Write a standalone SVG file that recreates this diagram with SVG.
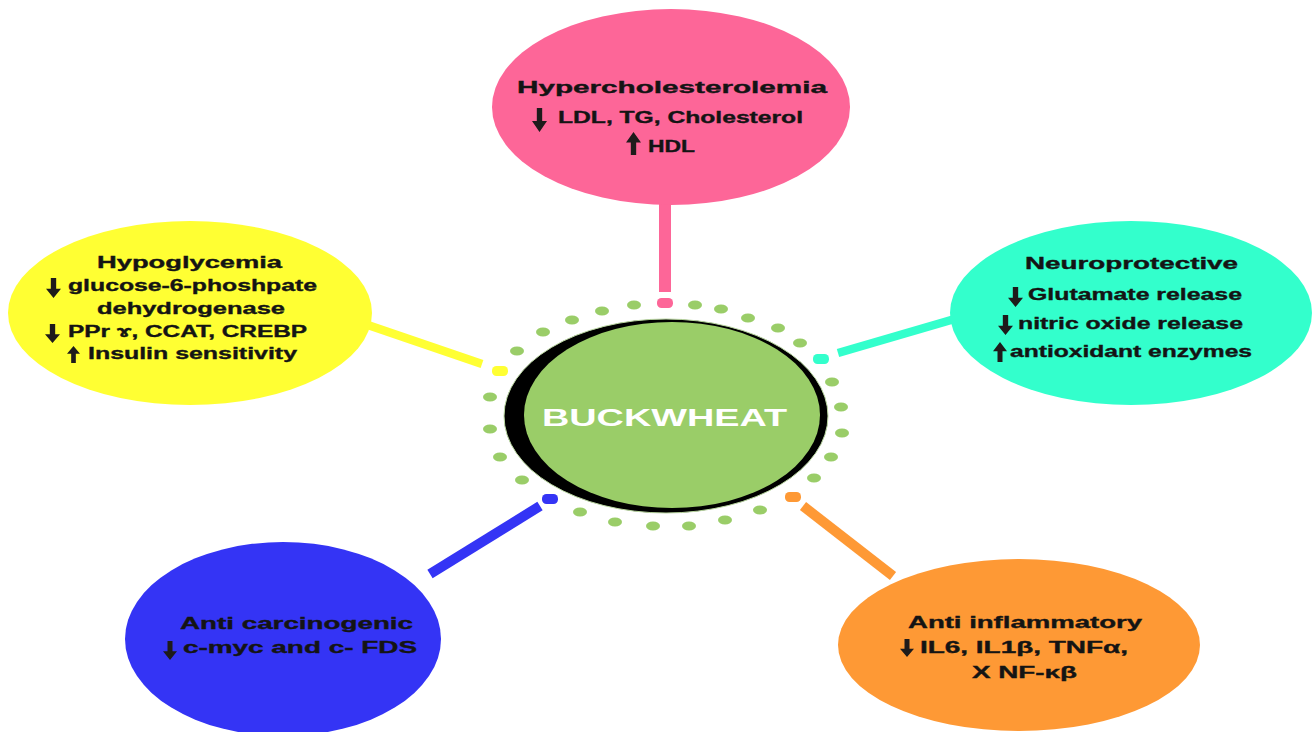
<svg xmlns="http://www.w3.org/2000/svg" xmlns:xlink="http://www.w3.org/1999/xlink" width="1312" height="732" viewBox="0 0 1312 732">
<style>
.t{font-family:"Liberation Sans",Arial,"DejaVu Sans",sans-serif;font-weight:bold;font-size:16px;fill:#141414;stroke:#141414;stroke-width:0.35px}
.dot{fill:#9acd68}
.lnk{fill:none;stroke-linecap:butt}
</style>
<defs>
<symbol id="dn" viewBox="0 0 14 24" preserveAspectRatio="none">
<path d="M4.5 0H9.5V13H14L7 24L0 13H4.5Z" fill="#1e1b1b"/>
</symbol>
<symbol id="up" viewBox="0 0 14 24" preserveAspectRatio="none">
<path d="M4.5 24H9.5V11H14L7 0L0 11H4.5Z" fill="#1e1b1b"/>
</symbol>
</defs>
<rect width="1312" height="732" fill="#ffffff"/>

<g id="connectors">
<line class="lnk" x1="665" y1="200" x2="665" y2="292" stroke="#fd6698" stroke-width="12"/>
<line class="lnk" x1="362" y1="323" x2="482" y2="364" stroke="#ffff33" stroke-width="8.5"/>
<line class="lnk" x1="838" y1="353" x2="958" y2="318" stroke="#33ffcc" stroke-width="8.5"/>
<line class="lnk" x1="540" y1="506" x2="430" y2="574" stroke="#3434f5" stroke-width="10"/>
<line class="lnk" x1="803" y1="506" x2="893" y2="576" stroke="#fe9935" stroke-width="10"/>
<rect x="657" y="298" width="16" height="10" rx="4.5" fill="#fd6698"/>
<rect x="492" y="366" width="16" height="10" rx="4.5" fill="#ffff33"/>
<rect x="813" y="354" width="16" height="10" rx="4.5" fill="#33ffcc"/>
<rect x="542" y="494" width="16" height="10" rx="4.5" fill="#3434f5"/>
<rect x="785" y="492" width="16" height="10" rx="4.5" fill="#fe9935"/>
</g>

<g id="buckwheat">
<g class="dots">
<ellipse class="dot" cx="602" cy="311" rx="7" ry="4.5"/>
<ellipse class="dot" cx="634" cy="305" rx="7" ry="4.5"/>
<ellipse class="dot" cx="695" cy="305" rx="7" ry="4.5"/>
<ellipse class="dot" cx="721" cy="309" rx="7" ry="4.5"/>
<ellipse class="dot" cx="748" cy="318" rx="7" ry="4.5"/>
<ellipse class="dot" cx="778" cy="328" rx="7" ry="4.5"/>
<ellipse class="dot" cx="800" cy="343" rx="7" ry="4.5"/>
<ellipse class="dot" cx="572" cy="320" rx="7" ry="4.5"/>
<ellipse class="dot" cx="543" cy="332" rx="7" ry="4.5"/>
<ellipse class="dot" cx="517" cy="351" rx="7" ry="4.5"/>
<ellipse class="dot" cx="490" cy="397" rx="7" ry="4.5"/>
<ellipse class="dot" cx="490" cy="429" rx="7" ry="4.5"/>
<ellipse class="dot" cx="500" cy="457" rx="7" ry="4.5"/>
<ellipse class="dot" cx="522" cy="480" rx="7" ry="4.5"/>
<ellipse class="dot" cx="580" cy="512" rx="7" ry="4.5"/>
<ellipse class="dot" cx="615" cy="522" rx="7" ry="4.5"/>
<ellipse class="dot" cx="653" cy="526" rx="7" ry="4.5"/>
<ellipse class="dot" cx="689" cy="526" rx="7" ry="4.5"/>
<ellipse class="dot" cx="725" cy="520" rx="7" ry="4.5"/>
<ellipse class="dot" cx="760" cy="510" rx="7" ry="4.5"/>
<ellipse class="dot" cx="832" cy="382" rx="7" ry="4.5"/>
<ellipse class="dot" cx="841" cy="407" rx="7" ry="4.5"/>
<ellipse class="dot" cx="842" cy="433" rx="7" ry="4.5"/>
<ellipse class="dot" cx="831" cy="457" rx="7" ry="4.5"/>
<ellipse class="dot" cx="814" cy="478" rx="7" ry="4.5"/>
</g>
<ellipse cx="666" cy="416" rx="162" ry="97" fill="#000000" stroke="#b9d6a0" stroke-width="1"/>
<ellipse cx="672" cy="415" rx="148" ry="93" fill="#9acd68"/>
<text x="664.5" y="426" text-anchor="middle" textLength="245" lengthAdjust="spacingAndGlyphs" style="font-family:'Liberation Sans',Arial,sans-serif;font-weight:bold;font-size:24px;fill:#ffffff">BUCKWHEAT</text>
</g>

<g id="hypercholesterolemia">
<ellipse cx="671" cy="107" rx="179" ry="98" fill="#fd6698"/>
<text class="t" x="517" y="93" textLength="310" lengthAdjust="spacingAndGlyphs">Hypercholesterolemia</text>
<use href="#dn" x="532" y="108" width="15" height="24"/>
<text class="t" x="558" y="123" textLength="245" lengthAdjust="spacingAndGlyphs">LDL, TG, Cholesterol</text>
<use href="#up" x="626" y="132" width="15" height="23"/>
<text class="t" x="648" y="152" textLength="47" lengthAdjust="spacingAndGlyphs">HDL</text>
</g>

<g id="hypoglycemia">
<ellipse cx="190" cy="313" rx="182" ry="92" fill="#ffff33"/>
<text class="t" x="97" y="268" textLength="185" lengthAdjust="spacingAndGlyphs">Hypoglycemia</text>
<use href="#dn" x="46" y="278" width="15" height="20"/>
<text class="t" x="68" y="291" textLength="249" lengthAdjust="spacingAndGlyphs">glucose-6-phoshpate</text>
<text class="t" x="97" y="314" textLength="188" lengthAdjust="spacingAndGlyphs">dehydrogenase</text>
<use href="#dn" x="45" y="324" width="15" height="19"/>
<text class="t" x="68" y="337" textLength="239" lengthAdjust="spacingAndGlyphs">PPr ɤ, CCAT, CREBP</text>
<use href="#up" x="67" y="346" width="13" height="17"/>
<text class="t" x="88" y="359" textLength="209" lengthAdjust="spacingAndGlyphs">Insulin sensitivity</text>
</g>

<g id="neuroprotective">
<ellipse cx="1131" cy="313" rx="181" ry="92" fill="#33ffcc"/>
<text class="t" x="1025" y="269" textLength="213" lengthAdjust="spacingAndGlyphs">Neuroprotective</text>
<use href="#dn" x="1008" y="287" width="15" height="20"/>
<text class="t" x="1028" y="300" textLength="214" lengthAdjust="spacingAndGlyphs">Glutamate release</text>
<use href="#dn" x="998" y="315" width="15" height="20"/>
<text class="t" x="1018" y="329" textLength="225" lengthAdjust="spacingAndGlyphs">nitric oxide release</text>
<use href="#up" x="993" y="342" width="14" height="20"/>
<text class="t" x="1010" y="357" textLength="242" lengthAdjust="spacingAndGlyphs">antioxidant enzymes</text>
</g>

<g id="anti-carcinogenic">
<ellipse cx="283" cy="639" rx="158" ry="97" fill="#3434f5"/>
<text class="t" x="180" y="629" textLength="233" lengthAdjust="spacingAndGlyphs">Anti carcinogenic</text>
<use href="#dn" x="163" y="641" width="14" height="19"/>
<text class="t" x="183" y="653" textLength="234" lengthAdjust="spacingAndGlyphs">c-myc and c- FDS</text>
</g>

<g id="anti-inflammatory">
<ellipse cx="1019" cy="645" rx="181" ry="86" fill="#fe9935"/>
<text class="t" x="908" y="628" textLength="234" lengthAdjust="spacingAndGlyphs">Anti inflammatory</text>
<use href="#dn" x="900" y="639" width="14" height="18"/>
<text class="t" x="920" y="653" textLength="208" lengthAdjust="spacingAndGlyphs">IL6, IL1β, TNFα,</text>
<text class="t" x="972" y="678" textLength="105" lengthAdjust="spacingAndGlyphs">X NF-κβ</text>
</g>
</svg>
